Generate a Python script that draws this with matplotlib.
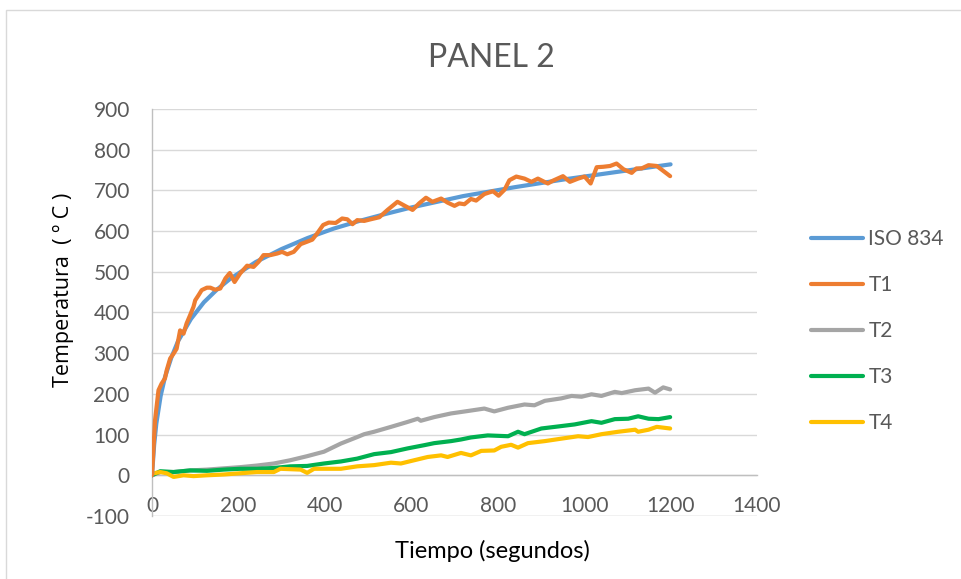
import matplotlib
matplotlib.use("Agg")
import matplotlib.pyplot as plt
from matplotlib.patches import Rectangle

# ---- data ----
iso_t = [0, 5, 10, 20, 30, 45, 60, 90, 120, 150, 180, 240, 300, 360, 420, 480,
         540, 600, 720, 840, 960, 1080, 1200]
iso_v = [0, 75, 127, 195, 241, 290, 329, 384, 425, 456, 482, 524, 556, 583, 606,
         625, 642, 658, 686, 708, 728, 746, 764]

t1_t = [0, 7, 15, 22, 30, 34, 42, 50, 57, 65, 73, 80, 88, 96, 100, 108, 115, 127,
        135, 146, 158, 170, 180, 191, 204, 220, 235, 247, 258, 274, 290, 301, 313,
        328, 344, 359, 371, 382, 396, 409, 425, 440, 452, 464, 475, 491, 506, 526,
        545, 568, 587, 603, 618, 634, 649, 669, 684, 700, 711, 723, 738, 750, 769,
        789, 802, 816, 827, 843, 862, 878, 893, 908, 916, 928, 951, 967, 986, 1001,
        1015, 1029, 1044, 1060, 1075, 1091, 1110, 1121, 1133, 1149, 1168, 1183, 1199]
t1_v = [0, 135, 209, 225, 238, 258, 287, 299, 311, 356, 348, 373, 393, 414, 430,
        443, 455, 461, 461, 456, 459, 484, 497, 475, 496, 515, 512, 525, 541, 541,
        545, 549, 543, 549, 568, 574, 579, 594, 615, 621, 620, 631, 629, 617, 627,
        625, 629, 634, 652, 672, 661, 652, 668, 682, 672, 680, 670, 662, 668, 666,
        679, 675, 691, 698, 687, 702, 725, 734, 729, 721, 729, 721, 717, 724, 735,
        721, 729, 734, 717, 757, 758, 760, 766, 752, 743, 754, 754, 762, 760, 748, 735]

t2_t = [0, 20, 50, 90, 127, 165, 204, 243, 282, 320, 359, 398, 437, 475, 491, 514,
        553, 591, 615, 622, 653, 692, 731, 769, 792, 824, 862, 885, 909, 947, 971,
        994, 1017, 1040, 1071, 1087, 1118, 1149, 1164, 1183, 1199]
t2_v = [0, 8, 8, 12, 14, 17, 20, 24, 29, 37, 47, 58, 78, 94, 101, 107, 119, 131,
        139, 134, 143, 152, 158, 164, 157, 166, 174, 172, 183, 189, 195, 193, 199,
        195, 205, 202, 209, 213, 203, 216, 211]

t3_t = [0, 19, 50, 88, 127, 166, 204, 243, 282, 320, 359, 398, 437, 475, 514, 553,
        591, 630, 653, 692, 715, 738, 777, 824, 847, 862, 901, 940, 978, 1017, 1040,
        1071, 1102, 1125, 1149, 1172, 1199]
t3_v = [0, 10, 8, 12, 11, 14, 16, 16, 18, 22, 23, 29, 34, 41, 52, 57, 66, 74, 79,
        84, 88, 93, 98, 96, 107, 101, 115, 120, 125, 133, 129, 138, 139, 145, 139,
        138, 143]

t4_t = [0, 19, 34, 50, 73, 96, 127, 166, 204, 243, 282, 297, 344, 359, 375, 437,
        475, 514, 553, 576, 599, 638, 669, 684, 715, 738, 762, 792, 808, 831, 847,
        870, 909, 947, 986, 1009, 1040, 1079, 1118, 1125, 1149, 1168, 1199]
t4_v = [4, 8, 5, -4, 0, -2, 0, 2, 5, 8, 8, 16, 14, 6, 16, 16, 22, 25, 31, 29, 35,
        45, 49, 45, 55, 49, 60, 61, 70, 75, 68, 79, 84, 90, 96, 94, 101, 107, 112,
        107, 112, 119, 115]

series_names = ["ISO 834", "T1", "T2", "T3", "T4"]
series_colors = ["#5B9BD5", "#ED7D31", "#A5A5A5", "#00B050", "#FFC000"]

x_ticks = [0, 200, 400, 600, 800, 1000, 1200, 1400]
y_ticks = [-100, 0, 100, 200, 300, 400, 500, 600, 700, 800, 900]

title = "PANEL 2"
xlabel = "Tiempo (segundos)"
ylabel = "Temperatura  ( º C )"

# ---- figure ----
plt.rcParams['font.family'] = ['Lato', 'DejaVu Sans']
plt.rcParams['axes.unicode_minus'] = False
W, H = 961, 579
fig = plt.figure(figsize=(W / 100, H / 100), dpi=100)

# chart border
fig.patches.append(Rectangle((6 / W, -0.05), 1.1, 1 - 10 / H + 0.05,
                             transform=fig.transFigure, fill=False,
                             edgecolor="#D9D9D9", linewidth=1.0))

ax = fig.add_axes([152 / W, 1 - 516 / H, (757 - 152) / W, (516 - 109) / H])
ax.set_xlim(0, 1400)
ax.set_ylim(-100, 900)
ax.set_xticks(x_ticks)
ax.set_yticks(y_ticks)

ax.grid(axis='y', color="#D9D9D9", linewidth=1.0)
ax.set_axisbelow(True)
for s in ['top', 'right']:
    ax.spines[s].set_visible(False)
ax.spines['bottom'].set_position(('data', 0))
ax.spines['bottom'].set_color("#BFBFBF")
ax.spines['left'].set_color("#BFBFBF")
ax.spines['left'].set_linewidth(1.0)
ax.spines['bottom'].set_linewidth(1.0)
ax.axhline(-100, color="#D9D9D9", linewidth=1.0, zorder=0.5)

ax.tick_params(axis='x', length=0, pad=15, labelsize=15, labelcolor="#595959")
ax.tick_params(axis='y', length=0, pad=16, labelsize=15, labelcolor="#595959")

data = [(iso_t, iso_v), (t1_t, t1_v), (t2_t, t2_v), (t3_t, t3_v), (t4_t, t4_v)]
lines = {}
for i in [2, 3, 4, 0, 1]:
    tt, vv = data[i]
    ln, = ax.plot(tt, vv, color=series_colors[i], linewidth=3.0,
                  solid_joinstyle='round', solid_capstyle='round',
                  label=series_names[i], zorder=4 if i == 1 else 3)
    lines[i] = ln

handles = [lines[i] for i in range(5)]
leg = fig.legend(handles, series_names, loc='center left',
                 bbox_to_anchor=(811 / W, 1 - 331 / H), frameon=False,
                 fontsize=15, labelcolor="#595959", handlelength=2.5,
                 handletextpad=0.25, labelspacing=1.25, borderpad=0,
                 borderaxespad=0)
for h in leg.legend_handles:
    h.set_linewidth(3)

fig.text(491 / W, 1 - 58 / H, title, ha='center', va='center',
         fontsize=23, color="#595959")
fig.text(492 / W, 1 - 551 / H, xlabel, ha='center', va='center',
         fontsize=17, color="#000000")
fig.text(63 / W, 1 - 290 / H, ylabel, ha='center', va='center',
         rotation=90, fontsize=15.5, color="#000000",
         family=['Open Sans', 'DejaVu Sans'])

fig.savefig("out.png", dpi=100)
